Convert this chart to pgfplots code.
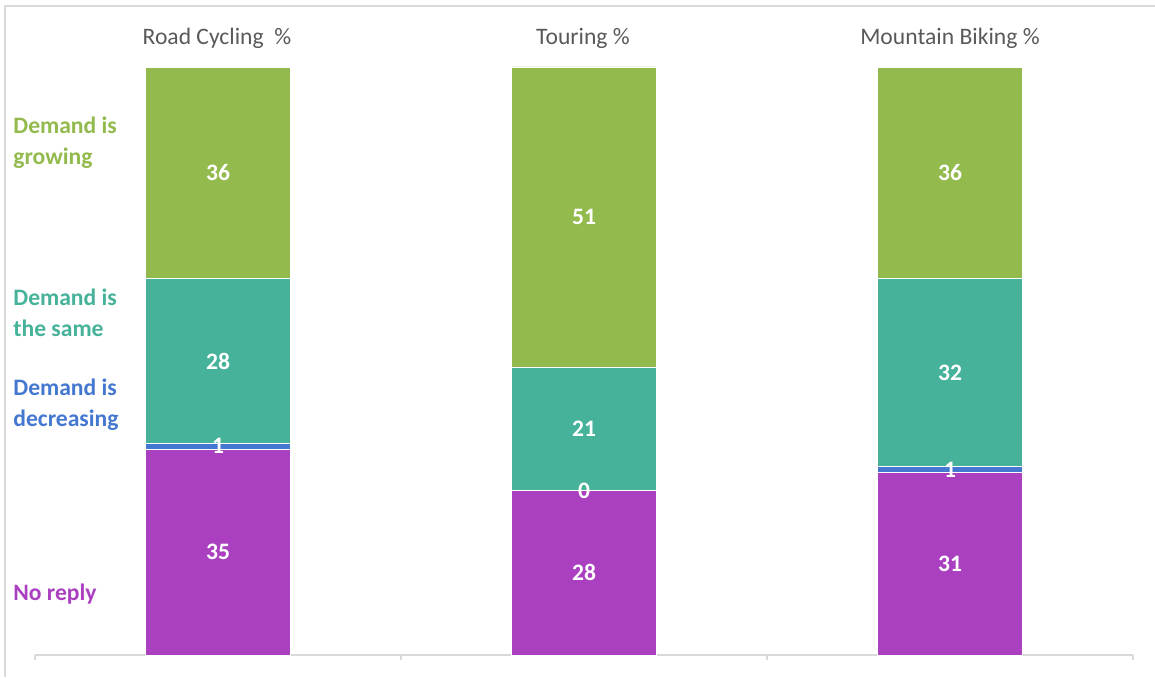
\documentclass[border=0pt]{standalone}
\usepackage{pgfplots}
\pgfplotsset{compat=1.18}
\usepackage{fontspec}
\setmainfont{Carlito}
\definecolor{cgrow}{HTML}{92BA4C}
\definecolor{csame}{HTML}{46B29A}
\definecolor{cdec}{HTML}{4478D0}
\definecolor{cno}{HTML}{AA3FC0}
\definecolor{axgrey}{HTML}{D9D9D9}
\definecolor{txtgrey}{HTML}{595959}
\newcommand\lab{\fontsize{11.8}{15.5}\selectfont}
\begin{document}
\begin{tikzpicture}
\path[use as bounding box] (0,0) rectangle (577.5pt,338.5pt);
\draw[axgrey, line width=0.8pt] (2.5pt,0) -- (2.5pt,335.5pt) -- (577.5pt,335.5pt);
\begin{axis}[
  at={(17.5pt,11pt)}, anchor=south west,
  scale only axis, width=549pt, height=294pt,
  ybar stacked, bar width=0.396,
  xmin=-0.5, xmax=2.5, ymin=0, ymax=100,
  axis y line=none, axis x line*=bottom,
  x axis line style={-, axgrey, line width=1pt},
  xtick={-0.5,0.5,1.5,2.5}, xticklabels={},
  tick style={axgrey, line width=0.8pt},
  major tick length=2.5pt, tick align=outside, xtick pos=bottom,
  clip=false,
  /pgf/number format/assume math mode=true,
  nodes near coords={\pgfmathprintnumber[fixed,precision=0]{\pgfplotspointmeta}},
  point meta=rawy,
  every node near coord/.append style={anchor=center, text=white, font=\bfseries\lab},
]
\addplot[fill=cno, draw=white, line width=0.35pt] coordinates {(0,35) (1,28) (2,31)};
\addplot[fill=cdec, draw=white, line width=0.35pt] coordinates {(0,1) (1,0.001) (2,1)};
\addplot[fill=csame, draw=white, line width=0.35pt] coordinates {(0,28) (1,21) (2,32)};
\addplot[fill=cgrow, draw=white, line width=0.35pt] coordinates {(0,36) (1,51) (2,36)};
\end{axis}
\node[text=txtgrey, font=\lab] at (108.5pt,319.5pt) {Road Cycling\ \ \%};
\node[text=txtgrey, font=\lab] at (291.5pt,319.5pt) {Touring \%};
\node[text=txtgrey, font=\lab] at (475pt,319.5pt) {Mountain Biking \%};
\node[anchor=west, align=left, text=cgrow, font=\bfseries\lab, inner sep=0pt] at (6.5pt,267.25pt) {Demand is\\growing};
\node[anchor=west, align=left, text=csame, font=\bfseries\lab, inner sep=0pt] at (6.5pt,182.25pt) {Demand is\\the same};
\node[anchor=west, align=left, text=cdec, font=\bfseries\lab, inner sep=0pt] at (6.5pt,136.25pt) {Demand is\\decreasing};
\node[anchor=west, align=left, text=cno, font=\bfseries\lab, inner sep=0pt] at (6.5pt,41.5pt) {No reply};
\end{tikzpicture}
\end{document}
